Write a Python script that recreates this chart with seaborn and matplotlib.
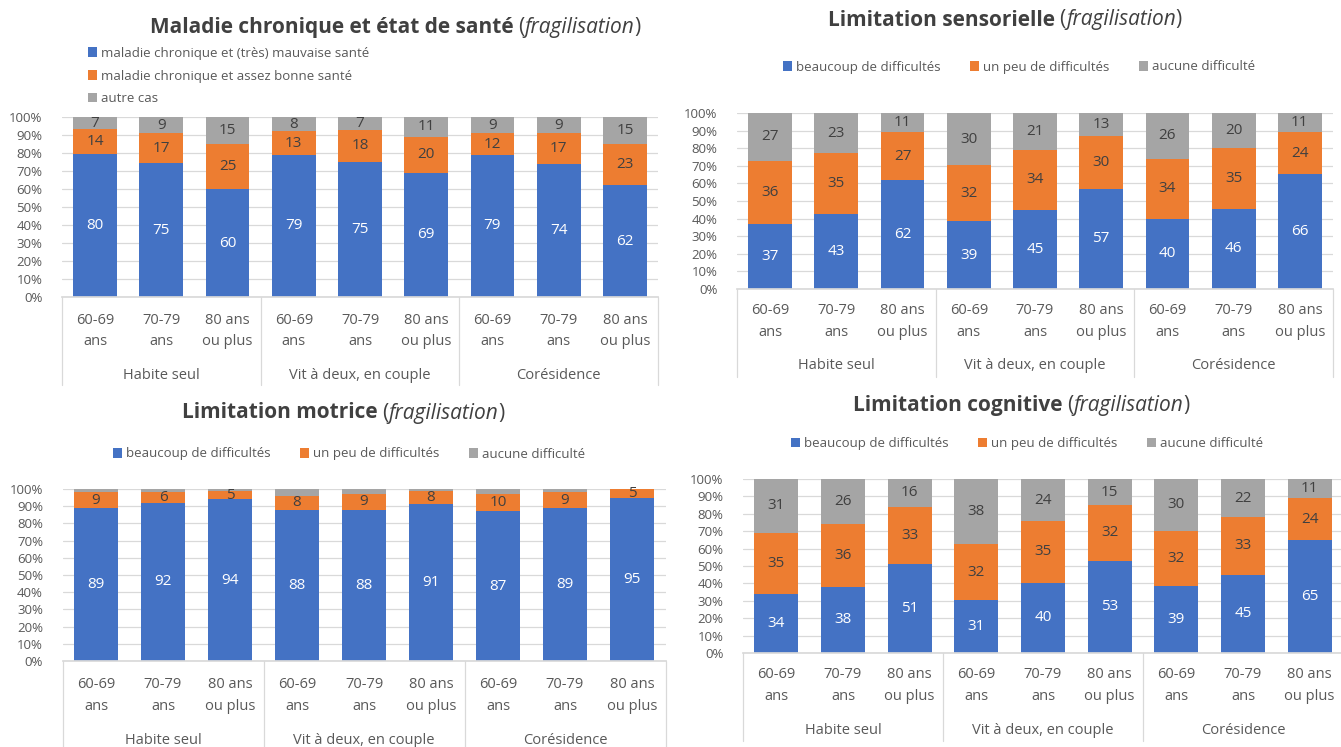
import numpy as np
import matplotlib
matplotlib.use("Agg")
import matplotlib.pyplot as plt
import seaborn as sns
from matplotlib.patches import Patch
from matplotlib.transforms import blended_transform_factory

sns.set_theme(style="white")
plt.rcParams['font.family'] = ['Open Sans', 'DejaVu Sans']

# ---------------- data ----------------
age_labels = [["60-69", "ans"], ["70-79", "ans"], ["80 ans", "ou plus"]]
groups = ["Habite seul", "Vit à deux, en couple", "Corésidence"]

chronic_names = ["maladie chronique et (très) mauvaise santé",
                 "maladie chronique et assez bonne santé",
                 "autre cas"]
diff_names = ["beaucoup de difficultés", "un peu de difficultés", "aucune difficulté"]

chronic_bad = [80, 75, 60, 79, 75, 69, 79, 74, 62]
chronic_good = [14, 17, 25, 13, 18, 20, 12, 17, 23]
chronic_other = [7, 9, 15, 8, 7, 11, 9, 9, 15]

sens_many = [37, 43, 62, 39, 45, 57, 40, 46, 66]
sens_some = [36, 35, 27, 32, 34, 30, 34, 35, 24]
sens_none = [27, 23, 11, 30, 21, 13, 26, 20, 11]

mot_many = [89, 92, 94, 88, 88, 91, 87, 89, 95]
mot_some = [9, 6, 5, 8, 9, 8, 10, 9, 5]
mot_none = [2, 2, 1, 4, 3, 1, 3, 2, 0]

cog_many = [34, 38, 51, 31, 40, 53, 39, 45, 65]
cog_some = [35, 36, 33, 32, 35, 32, 32, 33, 24]
cog_none = [31, 26, 16, 38, 24, 15, 30, 22, 11]

colors = ["#4472C4", "#ED7D31", "#A5A5A5"]
label_colors = ["white", "#404040", "#404040"]
TXT = "#595959"
GRID = "#D9D9D9"

W, H = 1341, 747
fig = plt.figure(figsize=(W / 100, H / 100), dpi=100)
fig.patch.set_facecolor("white")


def px_axes(left, right, top, bottom):
    return fig.add_axes([left / W, 1 - bottom / H, (right - left) / W, (bottom - top) / H])


def draw_panel(ax, series, ax_h_px, line1_off, line2_off, grp_off, sep_len):
    arr = np.array(series, float)
    pct = arr / arr.sum(axis=0) * 100
    cum = np.cumsum(pct, axis=0)
    cats = [f"{g}|{a[0]} {a[1]}" for g in groups for a in age_labels]
    for k in reversed(range(3)):
        sns.barplot(x=cats, y=cum[k], color=colors[k], width=0.66, ax=ax,
                    saturation=1, errorbar=None, linewidth=0, edgecolor="none")
    for k in range(3):
        for i in range(9):
            v = series[k][i]
            if v >= 5:
                ax.text(i, cum[k][i] - pct[k][i] / 2, str(v), ha="center", va="center",
                        fontsize=11, color=label_colors[k])
    ax.set_xlim(-0.5, 8.5)
    ax.set_ylim(0, 100)
    ax.set_yticks(range(0, 101, 10))
    ax.set_yticklabels([f"{v}%" for v in range(0, 101, 10)])
    ax.tick_params(axis="y", length=0, labelsize=9.5, labelcolor=TXT, pad=14)
    ax.set_xticks([])
    ax.set_xlabel("")
    ax.set_ylabel("")
    ax.yaxis.grid(True, color=GRID, lw=0.9)
    ax.set_axisbelow(True)
    for s in ["top", "right", "left"]:
        ax.spines[s].set_visible(False)
    ax.spines["bottom"].set_color(GRID)
    ax.set_facecolor("white")
    for gi, g in enumerate(groups):
        for ai, a in enumerate(age_labels):
            i = gi * 3 + ai
            for line, off in ((a[0], line1_off), (a[1], line2_off)):
                ax.annotate(line, xy=(i, 0), xycoords=("data", "axes fraction"),
                            xytext=(0, -off), textcoords="offset pixels",
                            ha="center", va="center", fontsize=10.5, color=TXT,
                            annotation_clip=False)
        ax.annotate(g, xy=(gi * 3 + 1, 0), xycoords=("data", "axes fraction"),
                    xytext=(0, -grp_off), textcoords="offset pixels",
                    ha="center", va="center", fontsize=10.5, color=TXT,
                    annotation_clip=False)
    tr = blended_transform_factory(ax.transData, ax.transAxes)
    for xv in [-0.5, 2.5, 5.5, 8.5]:
        ax.plot([xv, xv], [0, -sep_len / ax_h_px], transform=tr, color=GRID,
                lw=0.9, clip_on=False)


def rich_title(cx, cy, bold, italic, size=15):
    r = fig.canvas.get_renderer()
    parts = [(bold, "bold", "normal"), ("(", "normal", "normal"),
             (italic, "normal", "italic"), (")", "normal", "normal")]
    texts = []
    for s, w, st in parts:
        t = fig.text(0, 0, s, fontsize=size, fontweight=w, fontstyle=st,
                     color="#404040", va="center", ha="left")
        texts.append(t)
    widths = [t.get_window_extent(r).width for t in texts]
    gap = 0.3 * size
    total = sum(widths) + gap
    x = cx - total / 2
    for j, t in enumerate(texts):
        t.set_position((x / W, 1 - cy / H))
        x += widths[j] + (gap if j == 0 else 0)


def legend(handles_names, cx, cy, ncol, loc="center", spacing=0.8):
    handles = [Patch(facecolor=c, edgecolor="none") for c in colors]
    fig.legend(handles, handles_names, loc=loc, bbox_to_anchor=(cx / W, 1 - cy / H),
               ncol=ncol, frameon=False, handlelength=0.7, handleheight=0.7,
               handletextpad=0.3, columnspacing=2.2, fontsize=9.5, labelcolor=TXT,
               borderpad=0, borderaxespad=0, labelspacing=spacing)


# Panel 1
ax1 = px_axes(62, 658, 117, 297)
draw_panel(ax1, [chronic_bad, chronic_good, chronic_other], 180, 23, 44, 78, 88)
rich_title(395, 27, "Maladie chronique et état de santé", "fragilisation")
legend(chronic_names, 88, 76, 1, loc="center left", spacing=0.75)

# Panel 2
ax2 = px_axes(737, 1333, 113, 289)
draw_panel(ax2, [sens_many, sens_some, sens_none], 176, 22, 44, 77, 88)
rich_title(1005, 20, "Limitation sensorielle", "fragilisation")
legend(diff_names, 1019, 67, 3)

# Panel 3
ax3 = px_axes(62.5, 665.5, 489, 661)
draw_panel(ax3, [mot_many, mot_some, mot_none], 172, 23, 45, 79, 90)
rich_title(343, 413, "Limitation motrice", "fragilisation")
legend(diff_names, 349, 454, 3)

# Panel 4
ax4 = px_axes(743, 1343, 479, 653)
draw_panel(ax4, [cog_many, cog_some, cog_none], 174, 22, 44, 77, 88)
rich_title(1021, 405, "Limitation cognitive", "fragilisation")
legend(diff_names, 1027, 444, 3)

fig.savefig("out.png", dpi=100, facecolor="white")
